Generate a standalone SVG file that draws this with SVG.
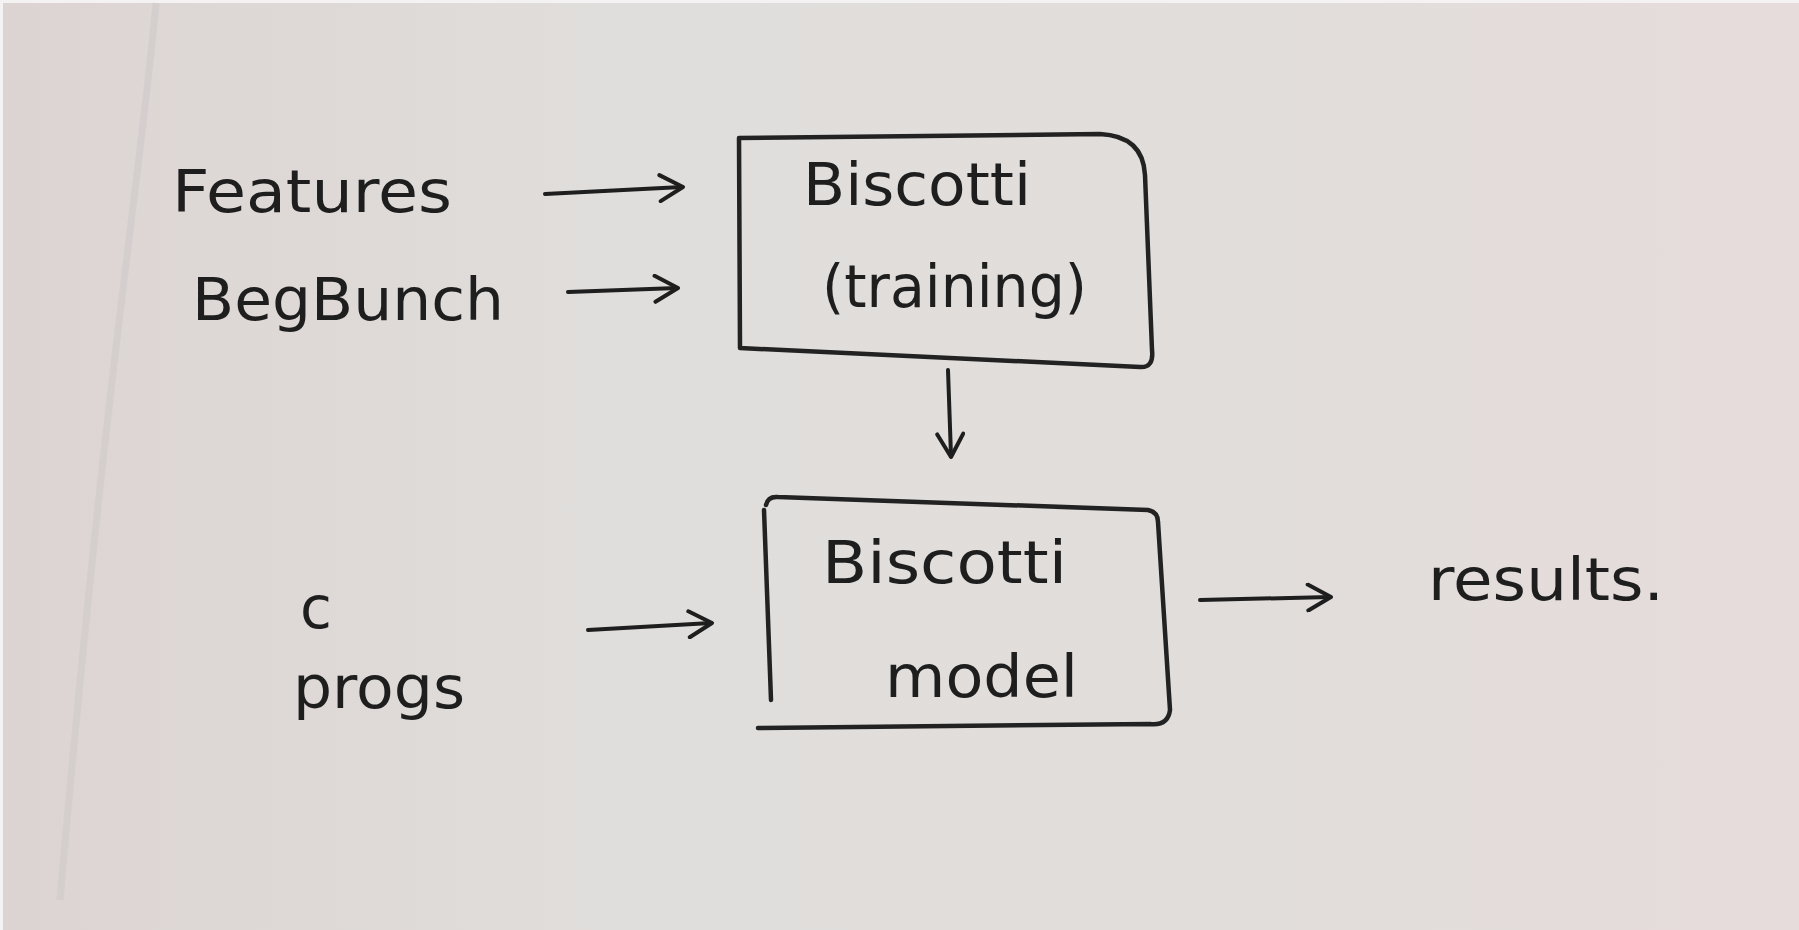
<svg xmlns="http://www.w3.org/2000/svg" width="1799" height="930" viewBox="0 0 1799 930">
<defs>
<linearGradient id="bg" x1="0" y1="0" x2="1" y2="0">
<stop offset="0" stop-color="#dcd4d2"/>
<stop offset="0.35" stop-color="#e0dedc"/>
<stop offset="0.7" stop-color="#e1dddb"/>
<stop offset="1" stop-color="#e6dcdb"/>
</linearGradient>
<marker id="ah" viewBox="0 0 30 30" refX="25" refY="15" markerWidth="30" markerHeight="30" markerUnits="userSpaceOnUse" orient="auto">
<path d="M3,2 L26,15 L3,28" fill="none" stroke="#1e1e1e" stroke-width="4" stroke-linecap="round" stroke-linejoin="round"/>
</marker>
<style>
.t{font-family:"DejaVu Sans","Liberation Sans",sans-serif;fill:#1e1e1e;font-size:58px}
.b{fill:none;stroke:#222;stroke-width:4.5;stroke-linejoin:round;stroke-linecap:round}
.c{fill:none;stroke:#1e1e1e;stroke-width:4;stroke-linecap:round}
</style>
</defs>
<rect x="0" y="0" width="1799" height="930" fill="#f4f2f2"/>
<rect x="3" y="3" width="1796" height="927" fill="url(#bg)"/>
<path d="M156,3 C140,180 105,380 60,900" stroke="#cfcac9" stroke-width="7" fill="none" opacity="0.6"/>

<g id="connectors">
<path class="c" marker-end="url(#ah)" d="M545,194 L682,187"/>
<path class="c" marker-end="url(#ah)" d="M568,292 L677,288"/>
<path class="c" marker-end="url(#ah)" d="M948,370 L951,456"/>
<path class="c" marker-end="url(#ah)" d="M588,630 L711,623"/>
<path class="c" marker-end="url(#ah)" d="M1200,600 L1330,597"/>
</g>

<g id="features"><text class="t" x="172" y="212" textLength="280" lengthAdjust="spacingAndGlyphs">Features</text></g>
<g id="begbunch"><text class="t" x="192" y="320" textLength="312" lengthAdjust="spacingAndGlyphs">BegBunch</text></g>

<g id="biscotti-training">
<path class="b" d="M739,138 L1100,134 Q1143,136 1145,175 L1152,350 Q1154,368 1140,367 L740,348 Z"/>
<text class="t" x="803" y="205" textLength="228" lengthAdjust="spacingAndGlyphs">Biscotti</text>
<text class="t" x="822" y="307" textLength="265" lengthAdjust="spacingAndGlyphs">(training)</text>
</g>

<g id="biscotti-model">
<path class="b" d="M766,505 Q768,496 778,497 L1148,510 Q1158,512 1158,522 L1170,710 Q1168,726 1150,724 L758,728"/>
<path class="b" d="M764,510 L771,700"/>
<text class="t" x="822" y="583" textLength="245" lengthAdjust="spacingAndGlyphs">Biscotti</text>
<text class="t" x="885" y="697" textLength="193" lengthAdjust="spacingAndGlyphs">model</text>
</g>

<g id="c-progs">
<text class="t" x="300" y="628">c</text>
<text class="t" x="293" y="708" textLength="172" lengthAdjust="spacingAndGlyphs">progs</text>
</g>

<g id="results"><text class="t" x="1428" y="600" textLength="236" lengthAdjust="spacingAndGlyphs">results.</text></g>
</svg>
